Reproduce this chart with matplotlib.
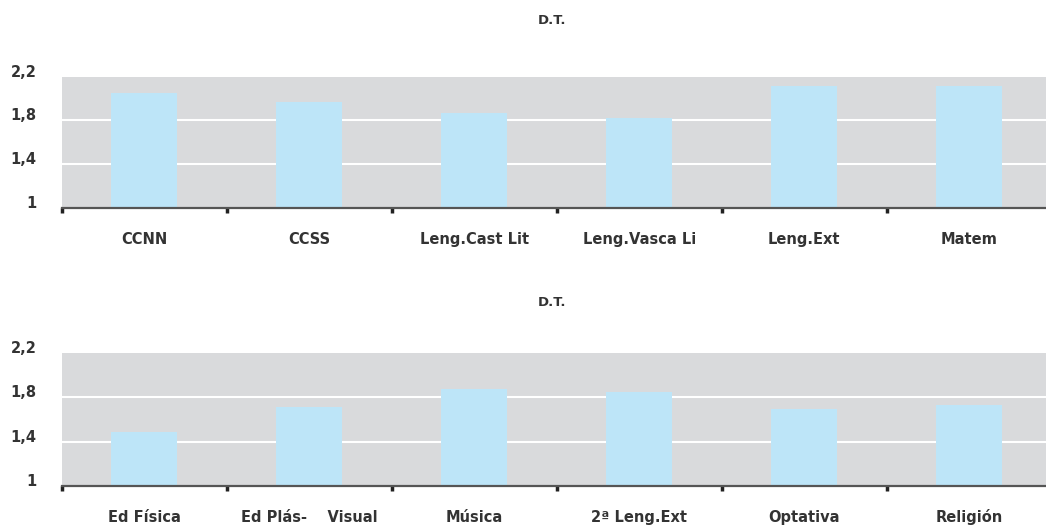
import matplotlib.pyplot as plt
import numpy as np

# datos (desviación típica por asignatura)
cats_top = ["CCNN", "CCSS", "Leng.Cast Lit", "Leng.Vasca Li", "Leng.Ext", "Matem"]
vals_top = [2.05, 1.97, 1.87, 1.82, 2.11, 2.11]

cats_bot = ["Ed Física", "Ed Plás-    Visual", "Música", "2ª Leng.Ext", "Optativa", "Religión"]
vals_bot = [1.49, 1.71, 1.87, 1.85, 1.69, 1.73]

yticks = [1, 1.4, 1.8, 2.2]
ytick_labels = ["1", "1,4", "1,8", "2,2"]

plt.rcParams['font.family'] = ['Liberation Sans Narrow', 'DejaVu Sans Condensed', 'DejaVu Sans']
text_col = '#333333'

fig = plt.figure(figsize=(10.46, 5.28), dpi=100)
ax1 = fig.add_axes([0.059, 0.606, 0.9465, 0.249])
ax2 = fig.add_axes([0.059, 0.0795, 0.9465, 0.2525])


def draw_panel(ax, cats, vals):
    x = np.arange(len(cats)) + 0.5
    ax.set_facecolor('#d9dadc')
    for g in [1.4, 1.8]:
        ax.axhline(g, color='white', lw=1.5, zorder=1)
    ax.bar(x, np.array(vals) - 1, bottom=1, width=0.4, color='#bde5f8', zorder=2)
    ax.set_xlim(0, len(cats))
    ax.set_ylim(1, 2.2)
    ax.set_xticks(np.arange(len(cats) + 1))
    ax.set_xticklabels([])
    ax.set_xticks(x, minor=True)
    ax.set_xticklabels(cats, minor=True, fontsize=10.5, fontweight='bold', color=text_col)
    for t in ax.get_xticklabels(minor=True):
        t.set_va('baseline')
    ax.tick_params(axis='x', which='major', direction='out', length=3.5, width=2.5, color='#222222')
    ax.tick_params(axis='x', which='minor', length=0, pad=26)
    ax.set_yticks(yticks)
    ax.set_yticklabels(ytick_labels, fontsize=10.5, fontweight='bold', color=text_col)
    for t in ax.get_yticklabels():
        t.set_va('baseline')
    ax.tick_params(axis='y', length=0, pad=18)
    for s in ['top', 'right', 'left']:
        ax.spines[s].set_visible(False)
    ax.spines['bottom'].set_color('#555555')
    ax.spines['bottom'].set_linewidth(1.6)
    ax.spines['bottom'].set_zorder(3)


draw_panel(ax1, cats_top, vals_top)
draw_panel(ax2, cats_bot, vals_bot)

fig.text(0.528, 0.962, "D.T.", ha='center', va='center', fontsize=9.5, fontweight='bold', color=text_col)
fig.text(0.528, 0.428, "D.T.", ha='center', va='center', fontsize=9.5, fontweight='bold', color=text_col)

fig.savefig("out.png", dpi=100)
